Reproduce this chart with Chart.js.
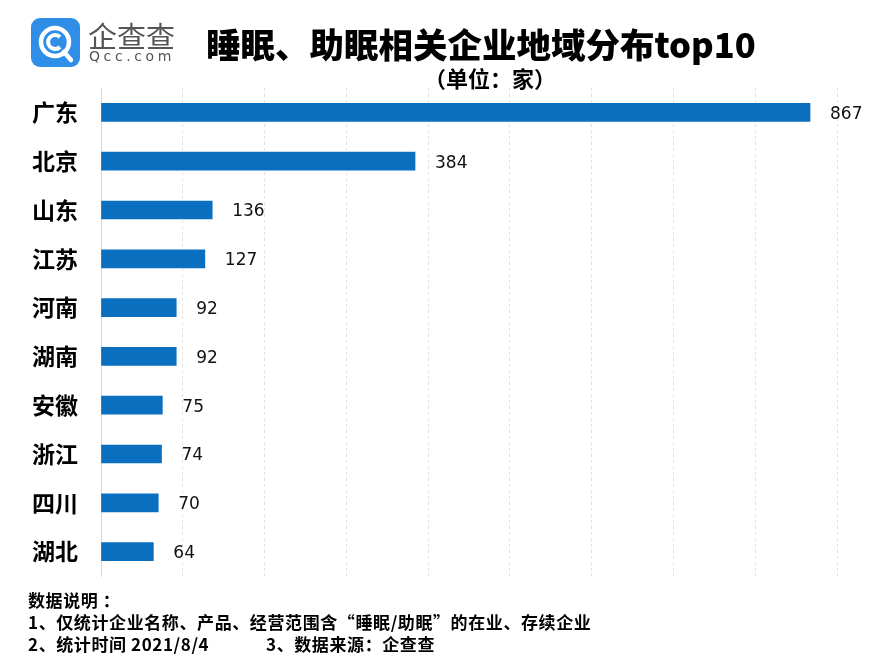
<!DOCTYPE html>
<html>
<head>
<meta charset="utf-8">
<script src="https://cdn.jsdelivr.net/npm/chart.js@4"></script>
<style>
  body { margin:0; background:#fff; }
  #wrap { position:relative; width:895px; height:668px; overflow:hidden; font-family:"Noto Sans CJK SC", sans-serif; }
  #chart { position:absolute; left:0; top:0; }
  .t { position:absolute; white-space:nowrap; color:#000; }
  .note { font-size:17px; font-weight:700; letter-spacing:0.6px; }
</style>
</head>
<body>
<div id="wrap">
  <canvas id="chart" width="895" height="668"></canvas>

  <!-- logo -->
  <svg class="t" style="left:31px;top:18px" width="50" height="50" viewBox="0 0 50 50">
    <rect x="0" y="0" width="49" height="49" rx="9" fill="#2f8fe8"/>
    <circle cx="24" cy="24" r="14" fill="none" stroke="#fff" stroke-width="4.5"/>
    <path d="M29 19 A7 7 0 1 0 29 29" fill="none" stroke="#fff" stroke-width="4"/>
    <line x1="33" y1="34" x2="40" y2="42" stroke="#fff" stroke-width="4.5" stroke-linecap="round"/>
  </svg>
  <div class="t" style="left:88px;top:14px;font-size:29px;color:#555;letter-spacing:0px">企查查</div>
  <div class="t" style="left:89px;top:48px;font-size:14px;color:#555;font-family:'DejaVu Sans';letter-spacing:3.6px">Qcc.com</div>

  <div class="t" style="left:206px;top:18px;font-size:34.5px;font-weight:900">睡眠、助眠相关企业地域分布top10</div>
  <div class="t" style="left:424px;top:61px;font-size:22px;font-weight:700">（单位：家）</div>

  <div class="t note" style="left:28px;top:587px">数据说明 ：</div>
  <div class="t note" style="left:28px;top:609px">1、仅统计企业名称、产品、经营范围含“睡眠/助眠”的在业、存续企业</div>
  <div class="t note" style="left:28px;top:631px">2、统计时间 2021/8/4</div>
  <div class="t note" style="left:266px;top:631px">3、数据来源：企查查</div>
</div>

<script>
const regions = ["广东", "北京", "山东", "江苏", "河南", "湖南", "安徽", "浙江", "四川", "湖北"];
const companies = [867, 384, 136, 127, 92, 92, 75, 74, 70, 64];
const axisMax = 900;
const axisStep = 100;

/* value labels at bar ends */
const valueLabels = {
  id: "valueLabels",
  afterDatasetsDraw(chart) {
    const c = chart.ctx;
    const meta = chart.getDatasetMeta(0);
    c.save();
    c.font = "17px 'DejaVu Sans'";
    c.fillStyle = "#111";
    c.textBaseline = "middle";
    meta.data.forEach((bar, i) => {
      c.fillText(String(companies[i]), bar.x + 20, bar.y + 2);
    });
    c.restore();
  }
};

new Chart(document.getElementById("chart"), {
  type: "bar",
  data: {
    labels: regions,
    datasets: [{
      data: companies,
      backgroundColor: "#0b6fbf",
      barThickness: 18
    }]
  },
  options: {
    indexAxis: "y",
    responsive: false,
    animation: false,
    layout: { padding: { top: 88, bottom: 92, right: 58, left: 0 } },
    plugins: { legend: { display: false }, tooltip: { enabled: false } },
    scales: {
      x: {
        min: 0,
        max: axisMax,
        ticks: { display: false, stepSize: axisStep },
        grid: { color: "#e2e2e2", drawTicks: false },
        border: { display: false, dash: [3, 3] },
        afterFit(s) { s.height = 0; }
      },
      y: {
        grid: { display: false },
        border: { color: "#d8d8d8" },
        ticks: {
          color: "#000",
          padding: 15,
          font: { family: "Noto Sans CJK SC", size: 23, weight: "bold" }
        },
        afterFit(s) { s.width = 101; }
      }
    }
  },
  plugins: [valueLabels]
});
</script>
</body>
</html>
